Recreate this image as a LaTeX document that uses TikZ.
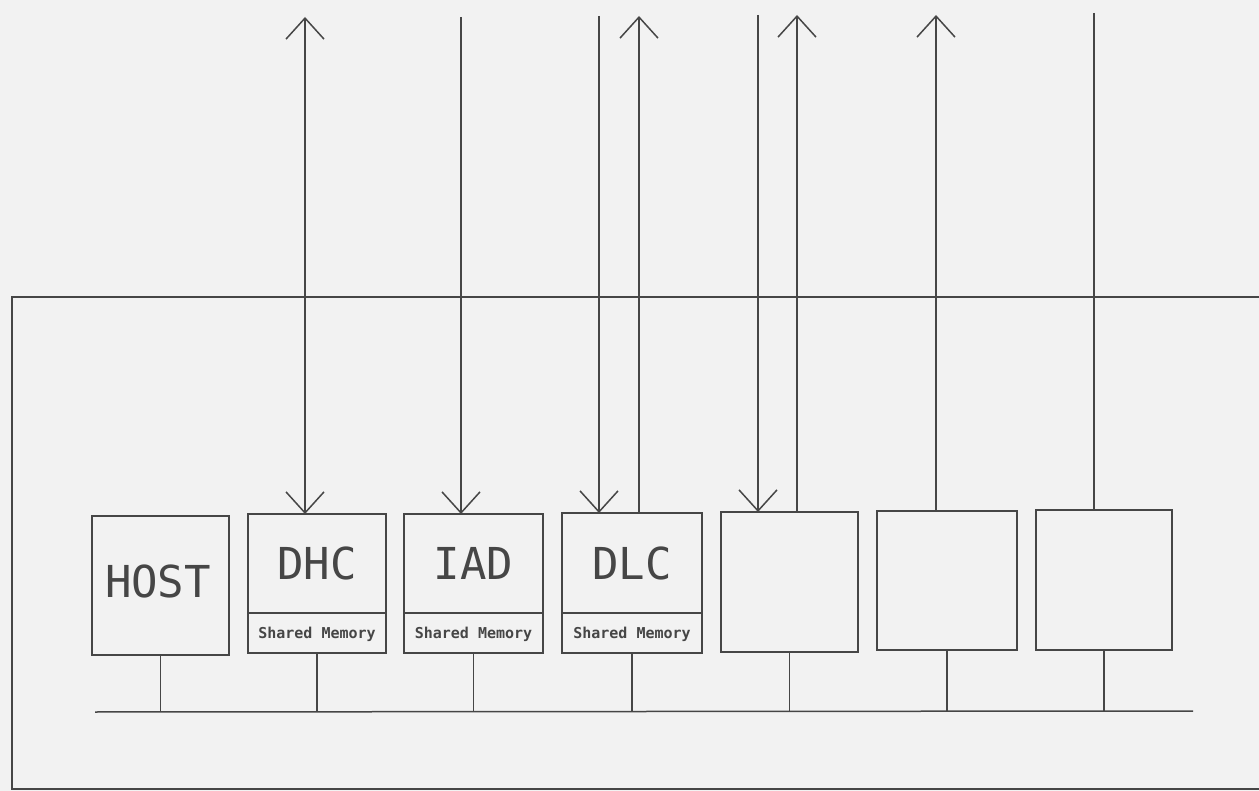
\documentclass[tikz,border=0pt]{standalone}
\usepackage{fontspec}
\newfontfamily\plotfont{DejaVu Sans Mono}
\usetikzlibrary{arrows.meta}
\definecolor{bgcol}{RGB}{242,242,242}
\definecolor{ink}{RGB}{70,70,70}
\tikzset{
  ln/.style={draw=ink, line width=1.5pt},
  card/.style={ln, rectangle, inner sep=0pt, outer sep=0pt, minimum width=138pt, minimum height=139pt},
  bigtxt/.style={text=ink, font=\plotfont\fontsize{44}{44}\selectfont, inner sep=0pt},
  smalltxt/.style={text=ink, font=\plotfont\bfseries\fontsize{15}{15}\selectfont, inner sep=0pt},
  tip/.style={-{Straight Barb[length=21pt,width=38pt,line width=1.5pt]}},
  btip/.style={{Straight Barb[length=21pt,width=38pt,line width=1.5pt]}-{Straight Barb[length=21pt,width=38pt,line width=1.5pt]}},
  rtip/.style={{Straight Barb[length=21pt,width=38pt,line width=1.5pt]}-}
}
\begin{document}
\begin{tikzpicture}[x=1pt,y=-1pt]
\fill[bgcol] (0,0) rectangle (1259,791);
\useasboundingbox (0,0) rectangle (1259,791);

% outer frame
\coordinate (fTL) at (12,297);
\coordinate (fTR) at (1259,297);
\coordinate (fBL) at (12,789);
\coordinate (fBR) at (1259,789);
\draw[ln] (fTR) -- (fTL) -- (fBL) -- (fBR);

% boxes
\node[card, minimum width=137pt] (host) at (160.5,585.5) {};
\node[card] (dhc) at (317,583.5) {};
\node[card, minimum width=139pt] (iad) at (473.5,583.5) {};
\node[card, minimum width=140pt, minimum height=140pt] (dlc) at (632,583) {};
\node[card, minimum width=137pt, minimum height=140pt] (b5) at (789.5,582) {};
\node[card, minimum width=140pt] (b6) at (947,580.5) {};
\node[card, minimum width=136pt, minimum height=140pt] (b7) at (1104,580) {};

% labels
\node[bigtxt] (hostl) at (158,581) {HOST};
\node[bigtxt] (dhcl) at (317,563) {DHC};
\node[bigtxt] (iadl) at (473.5,563) {IAD};
\node[bigtxt] (dlcl) at (632,563) {DLC};

% shared memory dividers
\draw[ln] ([yshift=-99pt]dhc.north west) -- ([yshift=-99pt]dhc.north east);
\draw[ln] ([yshift=-99pt]iad.north west) -- ([yshift=-99pt]iad.north east);
\draw[ln] ([yshift=-100pt]dlc.north west) -- ([yshift=-100pt]dlc.north east);
\node[smalltxt] (dhcm) at (317,634) {Shared Memory};
\node[smalltxt] (iadm) at (473.5,634) {Shared Memory};
\node[smalltxt] (dlcm) at (632,634) {Shared Memory};

% bus
\coordinate (busL) at (95,712);
\coordinate (busR) at (1193,711);
\draw[ln] (busL) -- (busR);
\foreach \b in {host,dhc,iad,dlc,b5,b6,b7}{
  \draw[ln] (\b.south) -- (\b.south |- busL);
}

% vertical signal lines
\coordinate (t1) at (305,17);
\coordinate (t2) at (461,17);
\coordinate (t3) at (599,16);
\coordinate (t4) at (639,16);
\coordinate (t5) at (758,15);
\coordinate (t6) at (797,15);
\coordinate (t7) at (936,15);
\coordinate (t8) at (1094,13);
\draw[ln, btip] (t1) -- (t1 |- dhc.north);
\draw[ln, tip] (t2) -- (t2 |- iad.north);
\draw[ln, tip] (t3) -- (t3 |- dlc.north);
\draw[ln, rtip] (t4) -- (t4 |- dlc.north);
\draw[ln, tip] (t5) -- (t5 |- b5.north);
\draw[ln, rtip] (t6) -- (t6 |- b5.north);
\draw[ln, rtip] (t7) -- (t7 |- b6.north);
\draw[ln] (t8) -- (t8 |- b7.north);
\end{tikzpicture}
\end{document}
